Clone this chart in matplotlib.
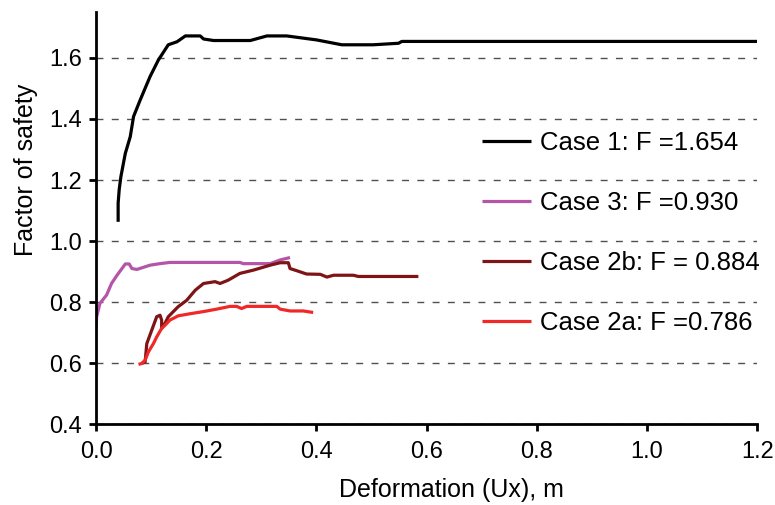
import matplotlib
matplotlib.use("Agg")
import matplotlib.pyplot as plt
import numpy as np

plt.rcParams['font.family'] = ['Liberation Sans', 'DejaVu Sans']

# Case 1
case1_x = [0.040, 0.040, 0.042, 0.045, 0.053, 0.062, 0.068, 0.080, 0.098, 0.113,
           0.131, 0.147, 0.162, 0.189, 0.195, 0.213, 0.280, 0.310, 0.346, 0.400,
           0.446, 0.503, 0.549, 0.555, 1.200]
case1_y = [1.063, 1.124, 1.170, 1.211, 1.287, 1.342, 1.408, 1.462, 1.539, 1.593,
           1.643, 1.653, 1.672, 1.672, 1.662, 1.657, 1.657, 1.672, 1.672, 1.659,
           1.643, 1.643, 1.648, 1.654, 1.654]

# Case 3
case3_x = [0.000, 0.001, 0.007, 0.019, 0.028, 0.038, 0.047, 0.053, 0.060, 0.065,
           0.074, 0.098, 0.116, 0.134, 0.261, 0.267, 0.316, 0.334, 0.352]
case3_y = [0.714, 0.752, 0.796, 0.823, 0.861, 0.888, 0.910, 0.925, 0.925, 0.910,
           0.907, 0.921, 0.926, 0.930, 0.930, 0.926, 0.926, 0.938, 0.946]

# Case 2b
case2b_x = [0.083, 0.089, 0.092, 0.101, 0.110, 0.116, 0.119, 0.119, 0.125, 0.131,
            0.149, 0.1645, 0.180, 0.195, 0.216, 0.225, 0.240, 0.261, 0.286, 0.316,
            0.334, 0.349, 0.352, 0.364, 0.382, 0.407, 0.419, 0.431, 0.467, 0.476,
            0.585]
case2b_y = [0.599, 0.604, 0.664, 0.708, 0.752, 0.757, 0.741, 0.714, 0.730, 0.752,
            0.785, 0.806, 0.839, 0.861, 0.867, 0.861, 0.872, 0.894, 0.905, 0.921,
            0.929, 0.929, 0.910, 0.903, 0.892, 0.891, 0.882, 0.888, 0.888, 0.884,
            0.884]

# Case 2a
case2a_x = [0.077, 0.083, 0.089, 0.095, 0.104, 0.110, 0.119, 0.125, 0.134, 0.149,
            0.171, 0.195, 0.219, 0.243, 0.255, 0.264, 0.2735, 0.328, 0.334, 0.352,
            0.376, 0.394]
case2a_y = [0.596, 0.599, 0.610, 0.637, 0.664, 0.686, 0.714, 0.724, 0.741, 0.755,
            0.762, 0.769, 0.777, 0.786, 0.786, 0.779, 0.786, 0.786, 0.777, 0.771,
            0.771, 0.766]

labels = ['Case 1: F =1.654', 'Case 3: F =0.930', 'Case 2b: F = 0.884', 'Case 2a: F =0.786']
colors = ['#000000', '#b455a8', '#7f1416', '#f02828']

fig, ax = plt.subplots(figsize=(7.75, 5.05), dpi=100)
fig.subplots_adjust(left=0.124, right=0.977, bottom=0.160, top=0.976)

series = [(case1_x, case1_y), (case3_x, case3_y), (case2b_x, case2b_y), (case2a_x, case2a_y)]
for (xs, ys), lab, col in zip(series, labels, colors):
    ax.plot(xs, ys, color=col, lw=2.3, label=lab, solid_capstyle='butt')

ax.set_xlim(0, 1.2)
ax.set_ylim(0.4, 1.75)
ax.set_xticks(np.arange(0, 1.21, 0.2))
ax.set_yticks(np.arange(0.4, 1.61, 0.2))
ax.xaxis.set_major_formatter(matplotlib.ticker.FormatStrFormatter('%.1f'))
ax.yaxis.set_major_formatter(matplotlib.ticker.FormatStrFormatter('%.1f'))

ax.yaxis.grid(True, color='#505050', lw=1, linestyle=(0, (5, 6)))
ax.set_axisbelow(True)

for s in ['top', 'right']:
    ax.spines[s].set_visible(False)
for s in ['left', 'bottom']:
    ax.spines[s].set_linewidth(2)
ax.tick_params(direction='out', length=5, width=2, labelsize=17)
ax.tick_params(axis='x', pad=7)
ax.tick_params(axis='y', pad=5)

ax.set_xlabel('Deformation (Ux), m', fontsize=18)
ax.set_ylabel('Factor of safety', fontsize=18)
ax.xaxis.set_label_coords(0.538, -0.131)
ax.yaxis.set_label_coords(-0.088, 0.618)

ax.legend(loc='center left', bbox_to_anchor=(0.584, 0.464), frameon=False,
          fontsize=18.5, handlelength=1.9, handletextpad=0.35, labelspacing=1.4,
          borderpad=0, borderaxespad=0)

fig.savefig('out.png', dpi=100)
